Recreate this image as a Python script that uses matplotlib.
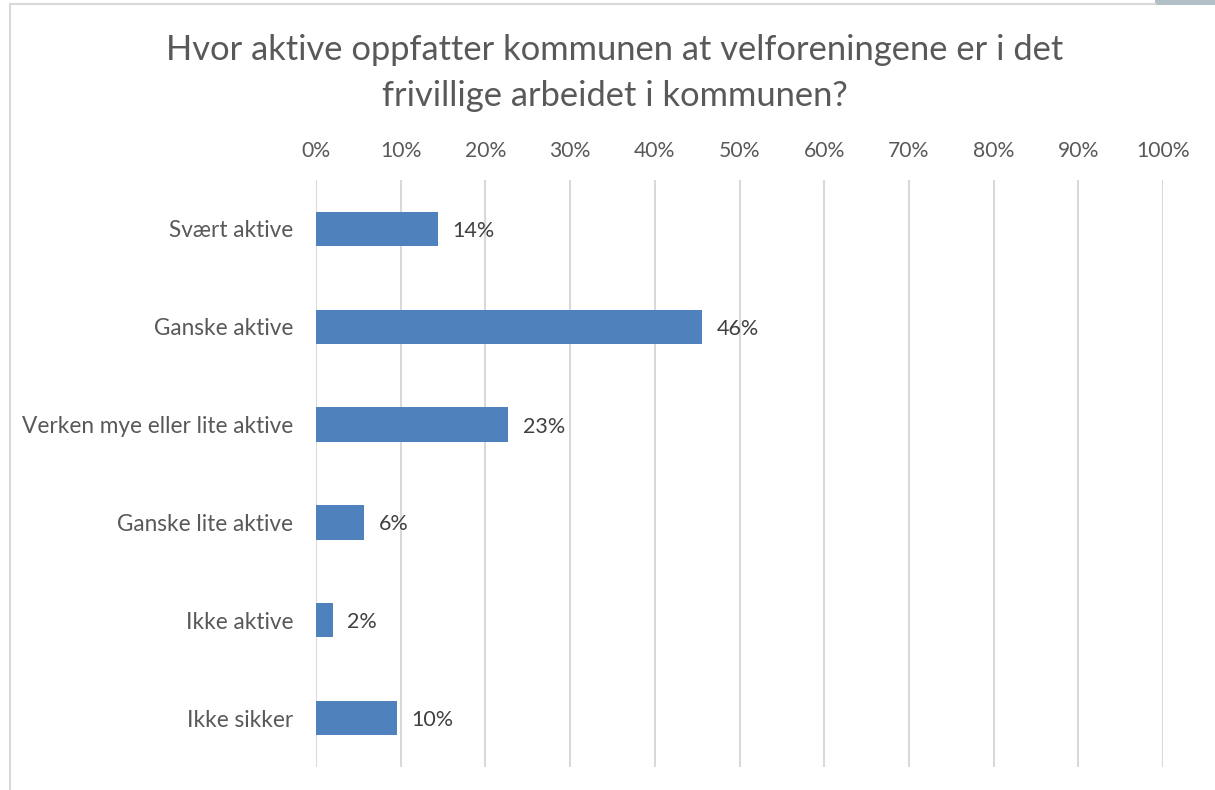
import matplotlib
matplotlib.use("Agg")
import matplotlib.pyplot as plt
from matplotlib.lines import Line2D
from matplotlib.patches import Rectangle

categories = ["Svært aktive", "Ganske aktive", "Verken mye eller lite aktive",
              "Ganske lite aktive", "Ikke aktive", "Ikke sikker"]
values = [14.4, 45.6, 22.7, 5.7, 2.0, 9.6]
xticks = [0, 10, 20, 30, 40, 50, 60, 70, 80, 90, 100]
title = "Hvor aktive oppfatter kommunen at velforeningene er i det\nfrivillige arbeidet i kommunen?"

plt.rcParams['font.family'] = ['Lato', 'DejaVu Sans']

fig = plt.figure(figsize=(12.15, 7.9), dpi=100)
W, H = 1215, 790
ax = fig.add_axes([316 / W, 1 - 767 / H, (1163 - 316) / W, (767 - 180) / H])

ypos = list(range(len(categories)))
ax.barh(ypos, values, height=0.35, color="#4F81BD", zorder=3)
for y, v in zip(ypos, values):
    ax.text(v + 1.7, y + 0.02, f"{round(v)}%", va="center", ha="left", fontsize=15.5,
            color="#404040", zorder=4)

ax.set_xlim(0, 100)
ax.set_ylim(len(categories) - 0.5, -0.5)
ax.set_xticks(xticks)
ax.set_xticklabels([f"{t}%" for t in xticks])
ax.set_yticks(ypos)
ax.set_yticklabels(categories)
ax.xaxis.tick_top()
ax.tick_params(axis="x", length=0, pad=13.4, labelsize=15.2, labelcolor="#595959")
ax.tick_params(axis="y", length=0, pad=16.5, labelsize=16.3, labelcolor="#595959")
ax.grid(axis="x", color="#D9D9D9", linewidth=1.5, zorder=0)
ax.grid(axis="y", visible=False)
for s in ax.spines.values():
    s.set_visible(False)

fig.text(0.506, 1 - 73 / H, title, ha="center", va="center", fontsize=24.8,
         color="#595959", linespacing=1.5)

# chart frame
fig.add_artist(Line2D([10 / W, 10 / W], [0, 1 - 4 / H], transform=fig.transFigure,
                      color="#D9D9D9", linewidth=1.5))
fig.add_artist(Line2D([10 / W, 1155 / W], [1 - 4 / H, 1 - 4 / H], transform=fig.transFigure,
                      color="#D9D9D9", linewidth=1.5))
fig.add_artist(Rectangle((1155 / W, 1 - 5 / H), 60 / W, 5 / H, transform=fig.transFigure,
                         facecolor="#B4C0C8", edgecolor="none"))

fig.savefig("out.png", dpi=100)
